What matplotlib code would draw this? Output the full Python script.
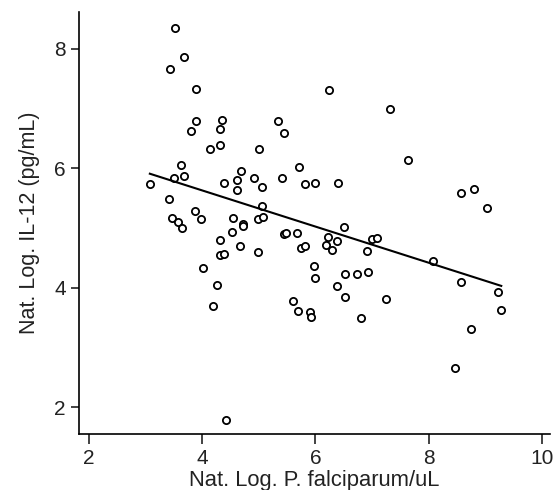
import matplotlib
matplotlib.use("Agg")
import matplotlib.pyplot as plt

# Data (Nat. Log. parasitaemia vs Nat. Log. IL-12)
x_vals = [3.53, 3.69, 3.43, 3.90, 3.90, 4.36, 3.81, 4.31, 4.32, 4.15, 5.01,
          3.63, 3.50, 3.69, 3.09, 4.39, 4.68, 4.62, 4.91, 5.06, 4.62, 3.41,
          3.87, 3.99, 3.47, 3.57, 3.65, 4.55, 4.72, 4.72, 5.05, 4.99, 5.07,
          4.53, 4.32, 4.67, 4.99, 4.32, 4.39, 4.01, 4.26, 4.20, 4.43,
          6.24, 7.31, 5.34, 5.45, 7.63, 5.72, 5.42, 5.81, 6.00, 6.40, 6.51,
          5.45, 5.49, 5.67, 6.23, 6.39, 7.00, 7.09, 5.75, 5.82, 6.18, 6.30,
          6.91, 5.98, 6.00, 6.53, 6.73, 6.93, 6.39, 6.52, 7.25, 5.60, 5.70,
          5.90, 5.93, 6.81,
          8.57, 8.80, 9.03, 8.07, 8.57, 9.23, 9.27, 8.75, 8.47]
y_vals = [8.36, 7.86, 7.67, 7.33, 6.79, 6.81, 6.62, 6.66, 6.39, 6.33, 6.33,
          6.06, 5.83, 5.88, 5.74, 5.76, 5.95, 5.80, 5.83, 5.68, 5.63, 5.48,
          5.29, 5.15, 5.17, 5.10, 5.00, 5.17, 5.06, 5.03, 5.37, 5.15, 5.19,
          4.93, 4.80, 4.70, 4.60, 4.55, 4.56, 4.33, 4.04, 3.70, 1.79,
          7.31, 7.00, 6.80, 6.60, 6.14, 6.02, 5.83, 5.73, 5.76, 5.75, 5.02,
          4.90, 4.92, 4.91, 4.85, 4.79, 4.81, 4.84, 4.67, 4.70, 4.71, 4.63,
          4.62, 4.36, 4.16, 4.23, 4.23, 4.26, 4.02, 3.85, 3.81, 3.77, 3.61,
          3.60, 3.51, 3.50,
          5.59, 5.65, 5.34, 4.44, 4.09, 3.93, 3.62, 3.30, 2.66]

# Regression line end points
fit_x = [3.08, 9.28]
fit_y = [5.91, 4.03]

x_ticks = [2, 4, 6, 8, 10]
y_ticks = [2, 4, 6, 8]
x_label = "Nat. Log. P. falciparum/uL"
y_label = "Nat. Log. IL-12 (pg/mL)"

plt.rcParams['font.family'] = ['Liberation Sans', 'DejaVu Sans']

fig = plt.figure(figsize=(5.56, 4.90), dpi=100)
ax = fig.add_axes([79/556, 56/490, 471/556, 422/490])

ax.plot(x_vals, y_vals, linestyle='none', marker='o', markersize=5.2,
        markerfacecolor='white', markeredgecolor='black', markeredgewidth=1.3)
ax.plot(fit_x, fit_y, color='black', linewidth=1.5)

ax.set_xlim(1.83, 10.14)
ax.set_ylim(1.548, 8.62)
ax.set_xticks(x_ticks)
ax.set_yticks(y_ticks)

for side in ['top', 'right']:
    ax.spines[side].set_visible(False)
for side in ['left', 'bottom']:
    ax.spines[side].set_linewidth(1.2)
    ax.spines[side].set_color('black')

ax.tick_params(axis='x', direction='out', length=7, width=1.2, labelsize=15,
               colors='#222222', pad=3.5)
ax.tick_params(axis='y', direction='out', length=5.5, width=1.2, labelsize=15,
               colors='#222222', pad=4)
ax.set_xlabel(x_label, fontsize=15.8, color='#222222', labelpad=1.5)
ax.set_ylabel(y_label, fontsize=15.5, color='#222222', labelpad=10)

fig.savefig("out.png", dpi=100, facecolor='white')
